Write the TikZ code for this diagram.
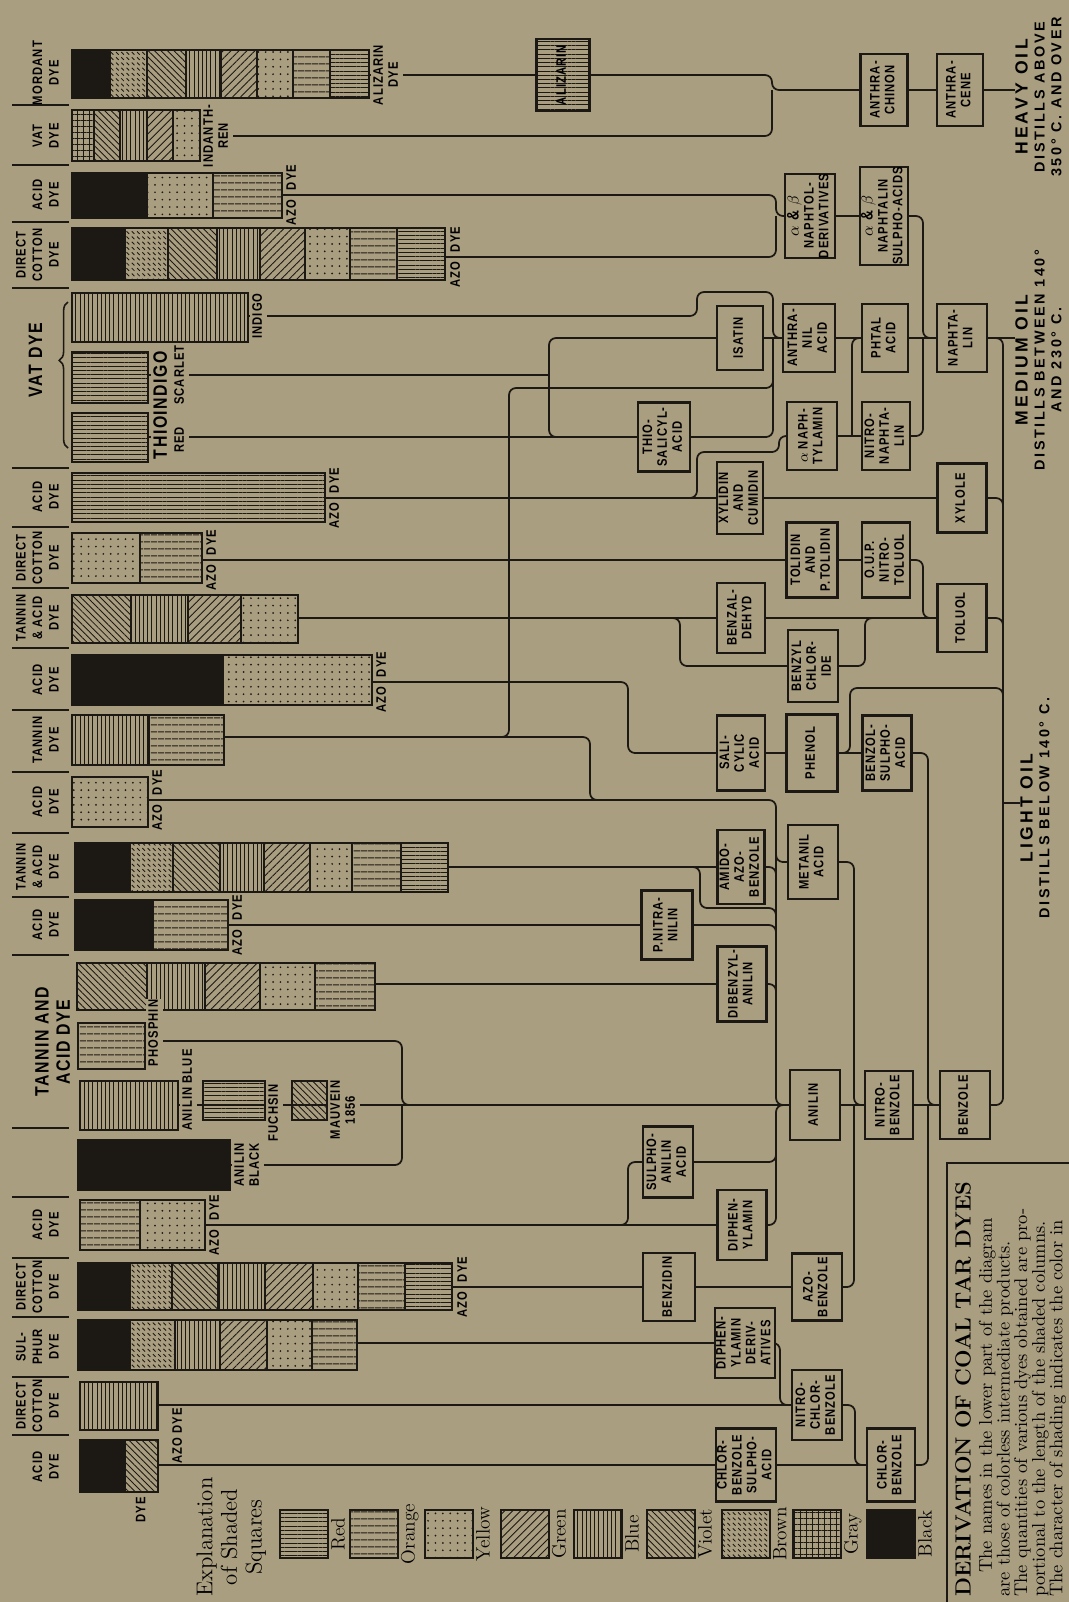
\documentclass[tikz,border=0pt]{standalone}
\usepackage{fontspec}
\usepackage{graphicx}
\usetikzlibrary{patterns.meta, decorations.pathreplacing}

\newfontfamily\gfont[FakeStretch=0.82, LetterSpace=8]{Liberation Sans}
\newfontfamily\ofont[LetterSpace=18]{Liberation Sans}

\definecolor{paper}{RGB}{170,158,128}
\definecolor{ink}{RGB}{28,24,20}

\newlength\pxu
\setlength\pxu{0.2mm}

% rotated (bottom to top) multi-line text
\newcommand\rt[1]{\rotatebox{90}{\begin{tabular}{@{}c@{}}#1\end{tabular}}}
\newcommand\chemfont{\gfont\bfseries\fontsize{7.8}{8.5}\selectfont}
\newcommand\catfont{\gfont\bfseries\fontsize{7.8}{9.4}\selectfont}
\newcommand\bigfont{\gfont\bfseries\fontsize{11}{12}\selectfont}
\newcommand\oilfont{\ofont\bfseries\fontsize{8.2}{9.6}\selectfont}
\newcommand\ab{{\fontsize{9.5}{9}\selectfont$\alpha$ \& $\beta$}}

\pgfdeclarepatternformonly{brownhatch}{\pgfqpoint{-0.5pt}{-0.5pt}}{\pgfqpoint{3.5pt}{3.5pt}}{\pgfqpoint{3pt}{3pt}}{%
  \pgfsetlinewidth{0.5pt}%
  \pgfpathmoveto{\pgfqpoint{0pt}{3pt}}%
  \pgfpathlineto{\pgfqpoint{1.5pt}{1.5pt}}%
  \pgfusepath{stroke}}

\pgfdeclarelayer{paperlayer}
\pgfdeclarelayer{wires}
\pgfsetlayers{paperlayer,wires,main}

\tikzset{
  wire/.style={draw=ink, line width=1pt, rounded corners=4pt},
  chem/.style={draw=ink, line width=1.2pt, fill=paper, inner sep=0pt,
    minimum width=48\pxu, minimum height=70\pxu, font=\chemfont},
  tag/.style={inner sep=0.6pt, font=\chemfont},
  cat/.style={inner sep=0pt, font=\catfont},
  pRed/.style={pattern={Lines[angle=0,distance=2.4pt,line width=0.5pt]}, pattern color=ink},
  pOrange/.style={pattern={Lines[angle=0,distance=4pt,line width=0.5pt]}, pattern color=ink},
  pBlue/.style={pattern={Lines[angle=90,distance=2.4pt,line width=0.5pt]}, pattern color=ink},
  pGreen/.style={pattern={Lines[angle=45,distance=3.2pt,line width=0.5pt]}, pattern color=ink},
  pViolet/.style={pattern={Lines[angle=-45,distance=2.6pt,line width=0.5pt]}, pattern color=ink},
  pYellow/.style={pattern={Dots[distance=4.2pt,radius=0.55pt]}, pattern color=ink},
  pBrown/.style={pattern=brownhatch, pattern color=ink},
  pGray/.style={pattern={Hatch[distance=3.4pt,line width=0.5pt]}, pattern color=ink},
  pBlack/.style={fill=ink},
}

% a shaded column: top, bottom, left edge, list of right-edge/shade
\newcommand\dyebar[4]{%
  \foreach \xe/\sqs [remember=\xe as \xs (initially #3)] in {#4}{%
    \draw[draw=ink, line width=0.8pt, \sqs] (\xs,#1) rectangle (\xe,#2);}}

% "AZO DYE" split round the connector
\newcommand\azo[3]{%
  \node[tag, anchor=north west, yshift=-0.7mm] (#1a) at (#2,#3) {\rt{AZO}};
  \node[tag, anchor=south west, yshift=0.7mm] (#1d) at (#2,#3) {\rt{DYE}};}

\begin{document}
\begin{tikzpicture}[x=0.2mm, y=-0.2mm]
\begin{pgfonlayer}{paperlayer}
  \fill[paper] (0,0) rectangle (1069,1602);
\end{pgfonlayer}
\useasboundingbox (0,0) rectangle (1069,1602);

% ---- dye columns ----
\dyebar{50}{98}{72}{110/pBlack,147/pBrown,186/pViolet,221/pBlue,257/pGreen,293/pYellow,330/pOrange,369/pRed}
\coordinate (mordant) at (369,75);
\dyebar{110}{161}{72}{94/pGray,120/pViolet,147/pBlue,173/pGreen,200/pYellow}
\coordinate (indanthren) at (200,136);
\dyebar{173}{218}{72}{147/pBlack,213/pYellow,282/pOrange}
\coordinate (acidA) at (282,195);
\dyebar{228}{280}{72}{125/pBlack,168/pBrown,217/pViolet,260/pBlue,305/pGreen,350/pYellow,397/pOrange,445/pRed}
\coordinate (cottonA) at (445,257);
\dyebar{293}{342}{72}{248/pBlue}
\coordinate (indigo) at (248,316);
\dyebar{352}{403}{72}{148/pRed}
\coordinate (scarlet) at (148,375);
\dyebar{413}{462}{72}{148/pRed}
\coordinate (thiored) at (148,437);
\dyebar{473}{522}{72}{325/pRed}
\coordinate (acidB) at (325,498);
\dyebar{533}{583}{72}{140/pYellow,202/pOrange}
\coordinate (cottonB) at (202,560);
\dyebar{595}{643}{72}{131/pViolet,188/pBlue,241/pGreen,298/pYellow}
\coordinate (tanacidA) at (298,618);
\dyebar{655}{705}{72}{223/pBlack,372/pYellow}
\coordinate (acidC) at (372,682);
\dyebar{715}{765}{72}{149/pBlue,224/pOrange}
\coordinate (tanninA) at (224,737);
\dyebar{777}{827}{72}{148/pYellow}
\coordinate (acidD) at (148,800);
\dyebar{843}{892}{75}{130/pBlack,173/pBrown,220/pViolet,264/pBlue,310/pGreen,352/pYellow,401/pOrange,448/pRed}
\coordinate (tanacidB) at (448,867);
\dyebar{900}{950}{75}{153/pBlack,228/pOrange}
\coordinate (acidE) at (228,925);
\dyebar{963}{1010}{77}{147/pViolet,205/pBlue,260/pGreen,315/pYellow,375/pOrange}
\coordinate (tanacidC) at (375,984);
\dyebar{1023}{1069}{78}{145/pOrange}
\coordinate (phosphin) at (145,1041);
\dyebar{1081}{1130}{80}{178/pBlue}
\coordinate (anilinblue) at (178,1105);
\dyebar{1081}{1120}{203}{265/pRed}
\dyebar{1081}{1120}{292}{327/pViolet}
\dyebar{1140}{1190}{78}{230/pBlack}
\coordinate (anilinblack) at (230,1165);
\dyebar{1200}{1250}{80}{140/pOrange,205/pYellow}
\coordinate (acidF) at (205,1225);
\dyebar{1263}{1310}{78}{130/pBlack,172/pBrown,218/pViolet,265/pBlue,313/pGreen,358/pYellow,405/pOrange,452/pRed}
\coordinate (cottonC) at (452,1287);
\dyebar{1320}{1370}{78}{130/pBlack,175/pBrown,220/pBlue,267/pGreen,312/pYellow,357/pOrange}
\coordinate (sulphur) at (357,1343);
\dyebar{1382}{1430}{80}{158/pBlue}
\coordinate (cottonD) at (158,1405);
\dyebar{1440}{1492}{80}{125/pBlack,158/pViolet}
\coordinate (acidG) at (158,1465);

% ---- names of the dyes ----
\node[tag, fill=paper, anchor=west] (alizdye) at (371,75) {\rt{ALIZARIN\\DYE}};
\node[tag, fill=paper, anchor=west] (indanthlab) at (201,136) {\rt{INDANTH-\\REN}};
\node[tag, fill=paper, anchor=west] (indigolab) at (250,316) {\rt{INDIGO}};
\node[inner sep=0.5pt, fill=paper, anchor=west, font=\bigfont] (thiolab) at (151,405) {\rt{THIOINDIGO}};
\node[tag, fill=paper, anchor=west] (scarletlab) at (172,375) {\rt{SCARLET}};
\node[tag, fill=paper, anchor=west] (redlab) at (172,440) {\rt{RED}};
\node[tag, fill=paper, anchor=west] (phosphinlab) at (146,1033) {\rt{PHOSPHIN}};
\node[tag, fill=paper, anchor=west] (bluelab) at (180,1090) {\rt{ANILIN BLUE}};
\node[tag, fill=paper, anchor=west] (fuchsinlab) at (266,1113) {\rt{FUCHSIN}};
\node[tag, fill=paper, anchor=west] (mauveinlab) at (328,1110) {\rt{MAUVEIN\\1856}};
\node[tag, fill=paper, anchor=west] (blacklab) at (232,1165) {\rt{ANILIN\\BLACK}};
\azo{azoA}{284}{195}
\azo{azoB}{448}{257}
\azo{azoC}{327}{498}
\azo{azoD}{204}{560}
\azo{azoE}{374}{682}
\azo{azoF}{150}{800}
\azo{azoG}{230}{925}
\azo{azoH}{207}{1225}
\azo{azoI}{455}{1287}
\node[tag, anchor=west] (azoJ) at (170,1436) {\rt{AZO DYE}};
\node[cat] (dyefoot) at (142,1510) {\rt{DYE}};

% ---- classes of dyes ----
\foreach \txt/\yy in {{MORDANT\\DYE}/73, {VAT\\DYE}/136, {ACID\\DYE}/195,
    {DIRECT\\COTTON\\DYE}/255, {ACID\\DYE}/497, {DIRECT\\COTTON\\DYE}/558,
    {TANNIN\\\& ACID\\DYE}/618, {ACID\\DYE}/680, {TANNIN\\DYE}/740,
    {ACID\\DYE}/802, {TANNIN\\\& ACID\\DYE}/867, {ACID\\DYE}/925,
    {ACID\\DYE}/1225, {DIRECT\\COTTON\\DYE}/1287, {SUL-\\PHUR\\DYE}/1347,
    {DIRECT\\COTTON\\DYE}/1406, {ACID\\DYE}/1467}
  \node[cat, anchor=east] (cat\yy) at (64,\yy) {\rt{\txt}};
\foreach \yy in {105,165,222,288,468,527,588,648,710,772,833,897,955,1128,1197,1258,1317,1377,1435}
  \draw[ink, line width=0.9pt] (12,\yy) -- (69,\yy);
\node[font=\bigfont] (vatlab) at (38,360) {\rt{VAT DYE}};
\draw[ink, line width=0.9pt, decorate, decoration={brace, amplitude=5pt, aspect=0.6}] (68,448) -- (68,302);
\node[font=\bigfont] (tanlab) at (55,1042) {\rt{TANNIN AND\\ACID DYE}};

% ---- intermediate products ----
\node[chem, pRed, minimum width=53\pxu, minimum height=72\pxu] (alizarin) at (563,75) {\rt{ALIZARIN}};
\node[chem, minimum width=47\pxu, minimum height=72\pxu] (anthrachinon) at (884,90) {\rt{ANTHRA-\\CHINON}};
\node[chem, minimum width=46\pxu, minimum height=72\pxu] (anthracene) at (960,90) {\rt{ANTHRA-\\CENE}};
\node[chem, minimum width=50\pxu, minimum height=78\pxu] (naphtol) at (810,216) {\rt{\ab\\NAPHTOL-\\DERIVATIVES}};
\node[chem, minimum width=48\pxu, minimum height=78\pxu] (naphsulpho) at (884,216) {\rt{\ab\\NAPHTALIN\\SULPHO-ACIDS}};
\node[chem, minimum width=46\pxu, minimum height=64\pxu] (isatin) at (740,338) {\rt{ISATIN}};
\node[chem, minimum width=52\pxu, minimum height=68\pxu] (anthranil) at (809,338) {\rt{ANTHRA-\\NIL\\ACID}};
\node[chem, minimum width=46\pxu, minimum height=68\pxu] (phtal) at (885,338) {\rt{PHTAL\\ACID}};
\node[chem, minimum width=50\pxu, minimum height=68\pxu] (naphtalin) at (962,338) {\rt{NAPHTA-\\LIN}};
\node[chem, minimum width=52\pxu, minimum height=69\pxu] (thiosal) at (664,437) {\rt{THIO-\\SALICYL-\\ACID}};
\node[chem, minimum width=50\pxu, minimum height=68\pxu] (naphtylamin) at (812,436) {\rt{$\alpha$ NAPH-\\TYLAMIN}};
\node[chem, minimum width=48\pxu, minimum height=68\pxu] (nitronaph) at (886,436) {\rt{NITRO-\\NAPHTA-\\LIN}};
\node[chem, minimum width=46\pxu, minimum height=72\pxu] (xylidin) at (740,498) {\rt{XYLIDIN\\AND\\CUMIDIN}};
\node[chem, minimum width=49\pxu, minimum height=69\pxu] (xylole) at (962,498) {\rt{XYLOLE}};
\node[chem, minimum width=51\pxu, minimum height=75\pxu] (tolidin) at (812,560) {\rt{TOLIDIN\\AND\\P.TOLIDIN}};
\node[chem, minimum width=48\pxu, minimum height=75\pxu] (nitrotoluol) at (886,560) {\rt{O.U.P.\\NITRO-\\TOLUOL}};
\node[chem, minimum width=48\pxu, minimum height=70\pxu] (benzaldehyd) at (741,618) {\rt{BENZAL-\\DEHYD}};
\node[chem, minimum width=49\pxu, minimum height=68\pxu] (toluol) at (962,618) {\rt{TOLUOL}};
\node[chem, minimum width=50\pxu, minimum height=72\pxu] (benzylchl) at (813,666) {\rt{BENZYL\\CHLOR-\\IDE}};
\node[chem, minimum width=48\pxu, minimum height=75\pxu] (salicyl) at (741,753) {\rt{SALI-\\CYLIC\\ACID}};
\node[chem, minimum width=51\pxu, minimum height=77\pxu] (phenol) at (812,753) {\rt{PHENOL}};
\node[chem, minimum width=49\pxu, minimum height=75\pxu] (benzsulpho) at (887,753) {\rt{BENZOL-\\SULPHO-\\ACID}};
\node[chem, minimum width=47\pxu, minimum height=74\pxu] (amidoazo) at (741,867) {\rt{AMIDO-\\AZO-\\BENZOLE}};
\node[chem, minimum width=50\pxu, minimum height=74\pxu] (metanil) at (813,862) {\rt{METANIL\\ACID}};
\node[chem, minimum width=51\pxu, minimum height=69\pxu] (pnitranilin) at (667,925) {\rt{P.NITRA-\\NILIN}};
\node[chem, minimum width=49\pxu, minimum height=75\pxu] (dibenzyl) at (742,984) {\rt{DIBENZYL-\\ANILIN}};
\node[chem, minimum width=50\pxu, minimum height=70\pxu] (anilin) at (815,1105) {\rt{ANILIN}};
\node[chem, minimum width=48\pxu, minimum height=68\pxu] (nitrobenz) at (889,1105) {\rt{NITRO-\\BENZOLE}};
\node[chem, minimum width=50\pxu, minimum height=68\pxu] (benzole) at (965,1105) {\rt{BENZOLE}};
\node[chem, minimum width=50\pxu, minimum height=71\pxu] (sulphanil) at (668,1162) {\rt{SULPHO-\\ANILIN\\ACID}};
\node[chem, minimum width=49\pxu, minimum height=70\pxu] (diphenyl) at (742,1225) {\rt{DIPHEN-\\YLAMIN}};
\node[chem, minimum width=52\pxu, minimum height=68\pxu] (benzidin) at (669,1287) {\rt{BENZIDIN}};
\node[chem, minimum width=50\pxu, minimum height=67\pxu] (azobenz) at (817,1287) {\rt{AZO-\\BENZOLE}};
\node[chem, minimum width=50\pxu, minimum height=70\pxu] (diphderiv) at (745,1343) {\rt{DIPHEN-\\YLAMIN\\DERIV-\\ATIVES}};
\node[chem, minimum width=50\pxu, minimum height=70\pxu] (nitrochlor) at (817,1405) {\rt{NITRO-\\CHLOR-\\BENZOLE}};
\node[chem, minimum width=48\pxu, minimum height=73\pxu] (chlorsulpho) at (746,1465) {\rt{CHLOR-\\BENZOLE\\SULPHO-\\ACID}};
\node[chem, minimum width=48\pxu, minimum height=73\pxu] (chlorbenz) at (891,1465) {\rt{CHLOR-\\BENZOLE}};

% ---- the three oils ----
\node[anchor=west, inner sep=0pt, font=\oilfont] (heavyoil) at (1015,97) {\rt{{\fontsize{10}{11}\selectfont HEAVY OIL}\\DISTILLS ABOVE\\350° C. AND OVER}};
\node[anchor=west, inner sep=0pt, font=\oilfont] (mediumoil) at (1015,360) {\rt{{\fontsize{10}{11}\selectfont MEDIUM OIL}\\DISTILLS BETWEEN 140°\\AND 230° C.}};
\node[anchor=west, inner sep=0pt, font=\oilfont] (lightoil) at (1020,808) {\rt{{\fontsize{10}{11}\selectfont LIGHT OIL}\\DISTILLS BELOW 140° C.}};

% ---- connectors ----
\begin{pgfonlayer}{wires}
\draw[wire] (mordant) -- (alizarin);
\draw[wire] (alizarin) -- (772,75) -- (772,90) -- (anthrachinon);
\draw[wire] (indanthren) -- (772,136) -- (772,90);
\draw[wire] (anthrachinon) -- (anthracene);
\draw[wire] (anthracene) -- (anthracene -| heavyoil.west);
\draw[wire] (acidA) -- (776,195) -- (776,216) -- (naphtol);
\draw[wire] (cottonA) -- (776,257) -- (776,216);
\draw[wire] (naphtol) -- (naphsulpho);
\draw[wire] (naphsulpho) -- (923,216) -- (923,338) -- (naphtalin);
\draw[wire] (indigo) -- (697,316) -- (697,292) -- (773,292) -- (773,338) -- (anthranil);
\draw[wire] (scarlet) -- (549,375);
\draw[wire] (isatin) -- (549,338) -- (549,437) -- (600,437);
\draw[wire] (thiored) -- (thiosal);
\draw[wire] (isatin) -- (anthranil);
\draw[wire] (thiosal) -- (773,437) -- (773,338);
\draw[wire] (490,737) -- (509,737) -- (509,388) -- (773,388) -- (773,365);
\draw[wire] (anthranil) -- (phtal);
\draw[wire] (phtal) -- (852,338) -- (852,436);
\draw[wire] (phtal) -- (naphtalin);
\draw[wire] (nitronaph) -- (923,436) -- (923,338);
\draw[wire] (naphtylamin) -- (nitronaph);
\draw[wire] (acidB) -- (xylidin);
\draw[wire] (680,498) -- (697,498) -- (697,452) -- (779,452) -- (779,436) -- (naphtylamin);
\draw[wire] (xylidin) -- (xylole);
\draw[wire] (xylole) -- (1003,498) -- (1003,520);
\draw[wire] (cottonB) -- (tolidin);
\draw[wire] (tolidin) -- (nitrotoluol);
\draw[wire] (nitrotoluol) -- (923,560) -- (923,618) -- (toluol);
\draw[wire] (tanacidA) -- (benzaldehyd);
\draw[wire] (660,618) -- (680,618) -- (680,666) -- (benzylchl);
\draw[wire] (benzaldehyd) -- (toluol);
\draw[wire] (benzylchl) -- (865,666) -- (865,618) -- (885,618);
\draw[wire] (toluol) -- (1003,618) -- (1003,640);
\draw[wire] (acidC) -- (628,682) -- (628,753) -- (salicyl);
\draw[wire] (salicyl) -- (phenol);
\draw[wire] (phenol) -- (benzsulpho);
\draw[wire] (840,753) -- (850,753) -- (850,688) -- (1003,688) -- (1003,710);
\draw[wire] (benzsulpho) -- (928,753) -- (928,1105) -- (benzole);
\draw[wire] (tanninA) -- (590,737) -- (590,800) -- (630,800);
\draw[wire] (acidD) -- (776,800) -- (776,1105) -- (anilin);
\draw[wire] (tanacidB) -- (amidoazo);
\draw[wire] (680,867) -- (700,867) -- (700,908) -- (776,908) -- (776,930);
\draw[wire] (amidoazo) -- (776,867) -- (776,885);
\draw[wire] (776,840) -- (776,862) -- (metanil);
\draw[wire] (metanil) -- (854,862) -- (854,1105) -- (nitrobenz);
\draw[wire] (acidE) -- (pnitranilin);
\draw[wire] (pnitranilin) -- (776,925) -- (776,945);
\draw[wire] (tanacidC) -- (dibenzyl);
\draw[wire] (dibenzyl) -- (776,984) -- (776,1005);
\draw[wire] (anilin) -- (nitrobenz);
\draw[wire] (nitrobenz) -- (benzole);
\draw[wire] (phosphin) -- (402,1041) -- (402,1105) -- (420,1105);
\draw[wire] (anilinblue) -- (anilin);
\draw[wire] (anilinblack) -- (402,1165) -- (402,1105);
\draw[wire] (acidF) -- (diphenyl);
\draw[wire] (600,1225) -- (628,1225) -- (628,1162) -- (sulphanil);
\draw[wire] (sulphanil) -- (776,1162) -- (776,1140);
\draw[wire] (diphenyl) -- (776,1225) -- (776,1105) -- (anilin);
\draw[wire] (cottonC) -- (benzidin);
\draw[wire] (benzidin) -- (azobenz);
\draw[wire] (azobenz) -- (854,1287) -- (854,1105);
\draw[wire] (sulphur) -- (diphderiv);
\draw[wire] (diphderiv) -- (780,1343) -- (780,1405) -- (nitrochlor);
\draw[wire] (cottonD) -- (nitrochlor);
\draw[wire] (nitrochlor) -- (855,1405) -- (855,1465) -- (chlorbenz);
\draw[wire] (acidG) -- (chlorsulpho);
\draw[wire] (chlorsulpho) -- (chlorbenz);
\draw[wire] (chlorbenz) -- (928,1465) -- (928,1105);
\draw[wire] (naphtalin) -- (naphtalin -| mediumoil.west);
\draw[wire] (naphtalin) -- (1003,338) -- (1003,1105) -- (benzole);
\draw[wire] (1003,803) -- (lightoil.west |- 1003,803);
\end{pgfonlayer}

% ---- key to the shading ----
\node[font=\rmfamily\fontsize{13}{14}\selectfont] (keytitle) at (232,1537) {\rt{Explanation\\of Shaded\\Squares}};
\foreach \nm/\lx/\sty in {Red/280/pRed, Orange/350/pOrange, Yellow/425/pYellow, Green/501/pGreen,
    Blue/574/pBlue, Violet/647/pViolet, Brown/722/pBrown, Gray/793/pGray, Black/867/pBlack}{
  \draw[draw=ink, line width=0.9pt, \sty] (\lx,1510) rectangle ++(48,48);
  \node[anchor=west, inner sep=1pt, font=\rmfamily\fontsize{11}{12}\selectfont] (key\nm) at (\lx+49,1534) {\rotatebox{90}{\nm}};
}

% ---- caption ----
\draw[ink, line width=1pt] (947,1602) -- (947,1163) -- (1069,1163);
\node[anchor=south west, inner sep=0pt] (caption) at (955,1597) {\rotatebox{90}{\fontsize{10.5}{8.8}\selectfont
  \begin{tabular}{@{}l@{}}
  {\fontsize{12.5}{13}\selectfont\bfseries DERIVATION OF COAL TAR DYES}\\[2pt]
  \hspace{1.3em}The names in the lower part of the diagram\\
  are those of colorless intermediate products.\\
  The quantities of various dyes obtained are pro-\\
  portional to the length of the shaded columns.\\
  The character of shading indicates the color in
  \end{tabular}}};
\end{tikzpicture}
\end{document}
